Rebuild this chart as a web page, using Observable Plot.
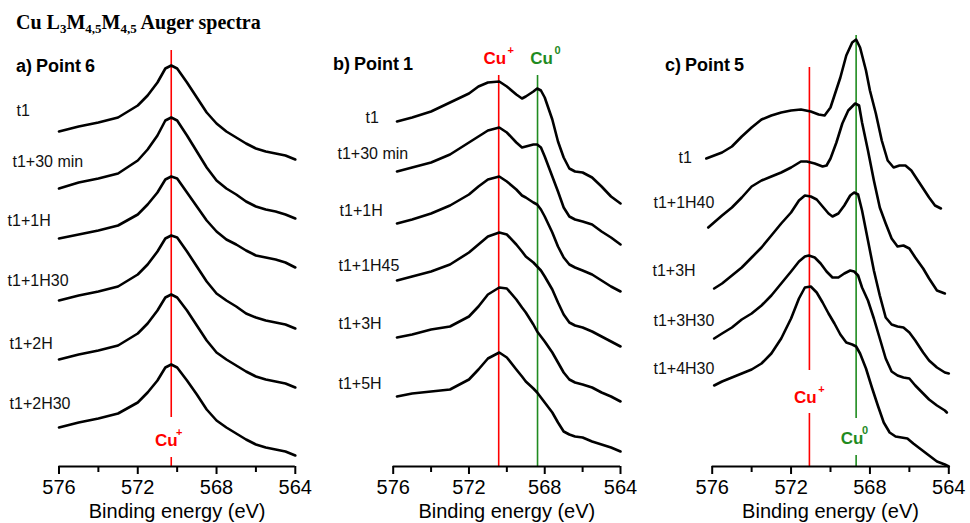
<!DOCTYPE html>
<html><head><meta charset="utf-8">
<script src="https://cdn.jsdelivr.net/npm/d3@7"></script>
<script src="https://cdn.jsdelivr.net/npm/@observablehq/plot@0.6"></script>
<style>
html,body{margin:0;padding:0;background:#fff;overflow:hidden;}
#wrap{position:relative;width:970px;height:523px;overflow:hidden;font-family:"Liberation Sans",Arial,sans-serif;}
#title{position:absolute;left:16px;top:11px;font-family:"Liberation Serif","Times New Roman",serif;font-weight:bold;font-size:20px;line-height:22px;white-space:nowrap;color:#000;}
#title sub{font-size:13px;vertical-align:baseline;position:relative;top:4px;}
.ptitle{position:absolute;font-weight:bold;font-size:18px;line-height:20px;white-space:nowrap;word-spacing:-1px;color:#000;}
</style></head>
<body><div id="wrap">
<div id="title">Cu L<sub>3</sub>M<sub>4,5</sub>M<sub>4,5</sub> Auger spectra</div>
<div class="ptitle" style="left:16px;top:56px">a) Point 6</div>
<div class="ptitle" style="left:333px;top:54px">b) Point 1</div>
<div class="ptitle" style="left:665px;top:55px">c) Point 5</div>
</div>
<script>
// ---------- Panel a) Point 6 (intensity, arbitrary offset units) ----------
const aEnergy = [576, 575, 574, 573, 572, 571.5, 571, 570.6, 570.3, 570, 569.5, 569, 568.5, 568, 567.5, 567, 566.5, 566, 565.5, 565, 564.5, 564];
const aT1      = [335, 340, 344, 349, 361, 371, 384, 398, 401, 398, 384, 369, 354, 343, 335, 329, 323, 318, 315, 313, 311, 307];
const aT1_30m  = [278, 284, 288, 293, 306, 317, 331, 346, 349, 346, 331, 315, 299, 286, 278, 272, 265, 260, 257, 255, 252, 248];
const aT1_1H   = [228, 232, 236, 241, 252, 262, 274, 287, 290, 288, 274, 260, 246, 235, 227, 222, 216, 211, 209, 207, 204, 199];
const aT1_1H30 = [166, 171, 175, 180, 192, 202, 215, 228, 231, 229, 215, 200, 185, 173, 166, 160, 153, 149, 146, 144, 142, 138];
const aT1_2H   = [107, 112, 116, 121, 133, 143, 156, 169, 172, 169, 156, 141, 126, 114, 107, 101, 95, 90, 87, 85, 83, 79];
const aT1_2H30 = [39, 44, 48, 53, 64, 74, 86, 99, 102, 99, 86, 72, 57, 46, 39, 33, 27, 22, 19, 17, 15, 11];
const aNames = ["t1", "t1+30 min", "t1+1H", "t1+1H30", "t1+2H", "t1+2H30"];

// ---------- Panel b) Point 1 ----------
const bEnergy = [575.8, 575, 574, 573, 572, 571.5, 571, 570.4, 570, 569.5, 569.2, 569, 568.6, 568.4, 568.2, 568, 567.6, 567.3, 567, 566.7, 566.4, 566, 565.5, 565, 564.5, 564];
const bT1      = [345, 349, 355, 364, 373, 380, 384, 385, 380, 372, 368, 370, 375, 378, 376, 369, 347, 325, 309, 298, 295, 294, 289, 280, 270, 263];
const bT1_30m  = [295, 299, 304, 312, 324, 330, 336, 339, 334, 324, 319, 320, 322, 322, 319, 310, 290, 275, 259, 250, 247, 245, 242, 235, 229, 222];
const bT1_1H   = [243, 247, 253, 261, 272, 280, 287, 290, 285, 277, 271, 269, 264, 262, 257, 250, 234, 220, 209, 202, 199, 196, 192, 186, 180, 175];
const bT1_1H45 = [186, 190, 195, 202, 214, 222, 230, 234, 232, 222, 215, 210, 204, 200, 196, 190, 177, 164, 152, 144, 141, 139, 135, 130, 125, 120];
const bT1_3H   = [129, 132, 137, 140, 150, 160, 172, 179, 178, 167, 159, 154, 142, 135, 130, 125, 114, 104, 94, 87, 84, 82, 79, 74, 70, 65];
const bT1_5H   = [70, 73, 75, 77, 87, 97, 108, 114, 109, 97, 90, 85, 78, 74, 69, 64, 54, 44, 35, 32, 30, 29, 25, 22, 19, 15];
const bNames = ["t1", "t1+30 min", "t1+1H", "t1+1H45", "t1+3H", "t1+5H"];

// ---------- Panel c) Point 5 ----------
const c1Energy = [576.3, 575.5, 575, 574.5, 574, 573.5, 573, 572.5, 572, 571.5, 571, 570.6, 570.3, 570, 569.8, 569.5, 569.2, 568.9, 568.7, 568.5, 568.2, 568, 567.7, 567.4, 567.1, 566.8, 566.5, 566.2, 565.9, 565.5, 565, 564.7, 564.4];
const cT1      = [308, 314, 320, 330, 339, 347, 351, 354, 356, 357, 355, 352, 351, 359, 371, 389, 411, 424, 427, 419, 396, 376, 353, 326, 306, 299, 301, 301, 296, 284, 269, 261, 258];
const c2Energy = [576.2, 575.5, 575, 574.5, 574, 573.5, 573, 572.5, 572, 571.5, 571.2, 570.8, 570.4, 570.2, 570, 569.7, 569.4, 569.1, 568.75, 568.55, 568.4, 568.1, 567.8, 567.5, 567.2, 566.9, 566.6, 566.3, 566, 565.7, 565.3, 565, 564.6, 564.2];
const cT1_1H40 = [239, 251, 259, 269, 280, 286, 290, 294, 299, 305, 305, 303, 300, 301, 308, 324, 343, 356, 363, 361, 344, 316, 286, 259, 243, 228, 220, 221, 218, 209, 198, 188, 176, 173];
const c3Energy = [575.9, 575.5, 575, 574.5, 574, 573.5, 573, 572.5, 572, 571.6, 571.3, 571, 570.7, 570.4, 570.1, 569.9, 569.6, 569.3, 569, 568.8, 568.6, 568.4, 568.1, 567.8, 567.5, 567.2, 566.9, 566.6, 566.3, 566, 565.7, 565.3, 565, 564.6, 564.2, 564];
const cT1_3H   = [178, 183, 191, 199, 209, 219, 231, 243, 254, 266, 271, 270, 267, 260, 253, 250, 253, 261, 271, 274, 272, 256, 226, 196, 171, 149, 142, 140, 139, 134, 126, 114, 106, 99, 94, 93];
const c4Energy = [575.9, 575.5, 575, 574.5, 574, 573.5, 573, 572.5, 572, 571.6, 571.3, 571.1, 570.8, 570.5, 570.2, 569.9, 569.6, 569.3, 569, 568.8, 568.6, 568.4, 568.1, 567.8, 567.5, 567.2, 566.9, 566.6, 566.3, 566, 565.7, 565.3, 565, 564.6, 564.2, 564.1];
const cT1_3H30 = [128, 133, 139, 147, 153, 161, 171, 183, 195, 205, 210, 211, 209, 203, 195, 189, 189, 193, 196, 195, 191, 179, 166, 148, 128, 108, 95, 91, 89, 88, 81, 73, 67, 61, 56, 54];
const c5Energy = [575.9, 575.5, 575, 574.5, 574, 573.5, 573, 572.5, 572, 571.6, 571.3, 571, 570.7, 570.4, 570.1, 569.8, 569.5, 569.2, 568.9, 568.7, 568.5, 568.2, 567.9, 567.6, 567.3, 567, 566.7, 566.4, 566.1, 565.8, 565.4, 565, 564.6, 564.2, 564];
const cT1_4H30 = [81, 85, 89, 93, 97, 103, 113, 128, 148, 168, 179, 180, 174, 164, 153, 143, 132, 124, 122, 120, 113, 98, 79, 61, 44, 34, 30, 29, 28, 23, 17, 11, 5, 2, 0];
const cNames = ["t1", "t1+1H40", "t1+3H", "t1+3H30", "t1+4H30"];

// Axis ticks and reference energies
const majorTicks = [576, 572, 568, 564];
const minorTicks = [574, 570, 566];
const xLabel = "Binding energy (eV)";
const cuPlusA = 570.3, cuPlusB = 570.43, cuZeroB = 568.38, cuPlusC = 571.07, cuZeroC = 568.70;

// ---------- build tables ----------
function rows(energy, values, name) {
  return energy.map((e, i) => ({energy: e, intensity: values[i], series: name}));
}
const dataA = [aT1, aT1_30m, aT1_1H, aT1_1H30, aT1_2H, aT1_2H30].flatMap((v, k) => rows(aEnergy, v, aNames[k]));
const dataB = [bT1, bT1_30m, bT1_1H, bT1_1H45, bT1_3H, bT1_5H].flatMap((v, k) => rows(bEnergy, v, bNames[k]));
const dataC = [
  rows(c1Energy, cT1, cNames[0]), rows(c2Energy, cT1_1H40, cNames[1]), rows(c3Energy, cT1_3H, cNames[2]),
  rows(c4Energy, cT1_3H30, cNames[3]), rows(c5Energy, cT1_4H30, cNames[4])
].flat();

const RED = "#ff0000", GREEN = "#1f8b1f";

// annotation placement (data coordinates)
const labelsA = aNames.map((t, i) => ({text: t, energy: [578.16, 578.36, 578.61, 578.61, 578.51, 578.51][i], intensity: [356, 305, 246, 186, 123, 63][i]}));
const labelsB = bNames.map((t, i) => ({text: t, energy: [577.46, 578.94, 578.83, 578.89, 578.89, 578.89][i], intensity: [349, 313, 256, 201, 143, 83][i]}));
const labelsC = cNames.map((t, i) => ({text: t, energy: [577.71, 578.98, 579.03, 578.98, 578.98][i], intensity: [309, 264, 196, 146, 98][i]}));

const guidesA = [{energy: cuPlusA, from: 49, to: 416, color: RED}, {energy: cuPlusA, from: 0, to: 9, color: RED}];
const guidesB = [{energy: cuPlusB, from: 0, to: 391, color: RED}, {energy: cuZeroB, from: 0, to: 391, color: GREEN}];
const guidesC = [{energy: cuPlusC, from: 96, to: 399, color: RED}, {energy: cuPlusC, from: 0, to: 53, color: RED},
                 {energy: cuZeroC, from: 48, to: 431, color: GREEN}, {energy: cuZeroC, from: 0, to: 11, color: GREEN}];

const tagsA = [{energy: cuPlusA, intensity: 26, sup: "+", color: RED, dx: -5, sdx: 8}];
const tagsB = [{energy: cuPlusB, intensity: 408, sup: "+", color: RED, dx: -4, sdx: 12},
               {energy: cuZeroB, intensity: 408, sup: "0", color: GREEN, dx: 4, sdx: 20}];
const tagsC = [{energy: cuPlusC, intensity: 69, sup: "+", color: RED, dx: -4, sdx: 12},
               {energy: cuZeroC, intensity: 28, sup: "0", color: GREEN, dx: -4, sdx: 9}];

function panel({left, width, marginLeft, marginRight, data, labels, guides, tags}) {
  const svg = Plot.plot({
    width, height: 523, marginTop: 0, marginBottom: 57, marginLeft, marginRight,
    x: {domain: [576, 564]},
    y: {domain: [0, 466], axis: null},
    color: {type: "identity"},
    style: {fontFamily: '"Liberation Sans", Arial, sans-serif', background: "transparent", overflow: "visible", color: "black"},
    marks: [
      Plot.ruleX(guides, {x: "energy", y1: "from", y2: "to", stroke: "color", strokeWidth: 1.6}),
      Plot.line(data, {x: "energy", y: "intensity", z: "series", stroke: "black", strokeWidth: 2.6, strokeLinejoin: "round", strokeLinecap: "round"}),
      Plot.text(labels, {x: "energy", y: "intensity", text: "text", textAnchor: "start", fontSize: 16, fill: "#111"}),
      ...tags.flatMap(t => [
        Plot.text([t], {x: "energy", y: "intensity", text: () => "Cu", fill: "color", fontWeight: "bold", fontSize: 17, dx: t.dx}),
        Plot.text([t], {x: "energy", y: "intensity", text: "sup", fill: "color", fontWeight: "bold", fontSize: 11, dx: t.sdx, dy: -8})
      ]),
      Plot.ruleY([0], {stroke: "black", strokeWidth: 2}),
      Plot.axisX({ticks: majorTicks, tickSize: 8, tickPadding: 5, fontSize: 20, strokeWidth: 2,
                  label: xLabel, labelAnchor: "center", labelArrow: "none", labelOffset: 51.5}),
      Plot.axisX({ticks: minorTicks, tickSize: 6, strokeWidth: 2, tickFormat: () => "", label: null})
    ]
  });
  svg.style.position = "absolute";
  svg.style.left = left + "px";
  svg.style.top = "0px";
  svg.style.maxWidth = "none";
  document.getElementById("wrap").appendChild(svg);
}

panel({left: 0, width: 320, marginLeft: 58.5, marginRight: 25.2, data: dataA, labels: labelsA, guides: guidesA, tags: tagsA});
panel({left: 320, width: 320, marginLeft: 72.7, marginRight: 20, data: dataB, labels: labelsB, guides: guidesB, tags: tagsB});
panel({left: 640, width: 330, marginLeft: 71.7, marginRight: 21.7, data: dataC, labels: labelsC, guides: guidesC, tags: tagsC});
</script>
</body></html>
